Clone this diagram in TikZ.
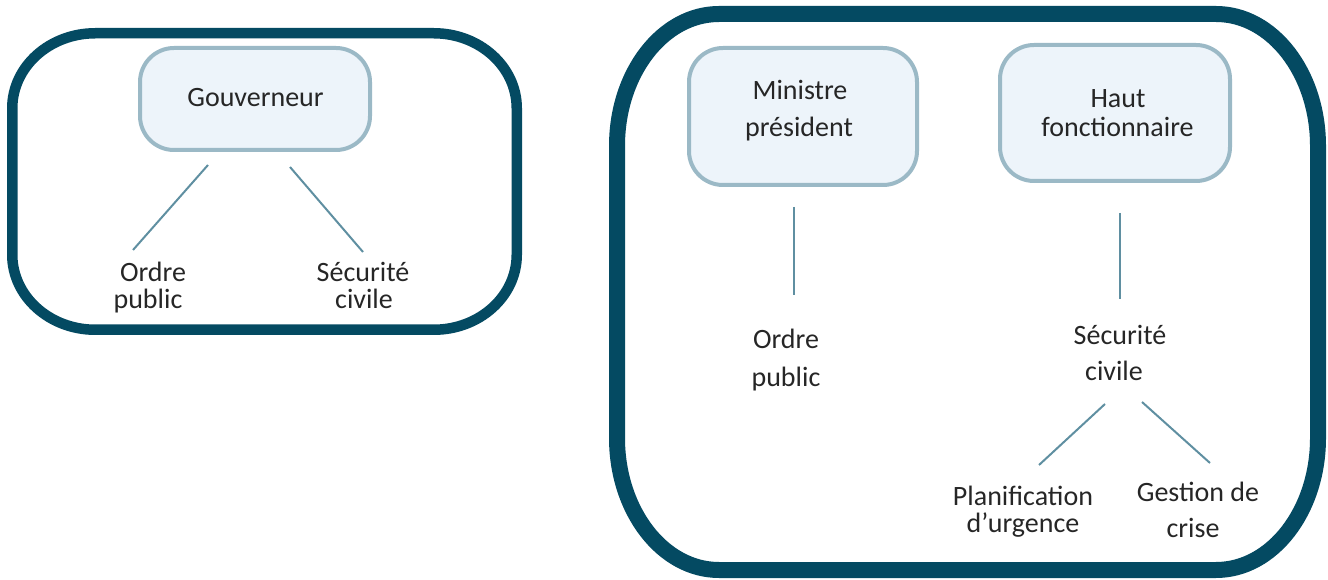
\documentclass[tikz,border=0pt]{standalone}
\usepackage{fontspec}
\setmainfont{Carlito}
\begin{document}
\begin{tikzpicture}[x=1pt,y=1pt,
  frame/.style={draw=frameblue, line join=round},
  rolebox/.style={draw=boxedge, fill=boxfill, line width=4pt, rounded corners=34pt,
                  minimum width=230pt, inner sep=0pt},
  txt/.style={anchor=base, inner sep=0pt, text=inkgray,
              font=\fontsize{28pt}{34pt}\selectfont},
  link/.style={draw=linkblue, line width=2pt}]
\definecolor{frameblue}{HTML}{044A62}
\definecolor{boxedge}{HTML}{9BB9C6}
\definecolor{boxfill}{HTML}{EDF4FA}
\definecolor{linkblue}{HTML}{5F8FA1}
\definecolor{inkgray}{HTML}{262626}
\useasboundingbox (0,0) rectangle (1328,579);

% ---- left panel: governor ----
\draw[frame, line width=10.5pt]
  (95.25,545.75) -- (433.75,545.75)
  arc[start angle=90, end angle=0, x radius=83pt, y radius=75pt] -- (516.75,324.25)
  arc[start angle=0, end angle=-90, x radius=83pt, y radius=75pt] -- (95.25,249.25)
  arc[start angle=270, end angle=180, x radius=83pt, y radius=75pt] -- (12.25,470.75)
  arc[start angle=180, end angle=90, x radius=83pt, y radius=75pt] -- cycle;

\node[rolebox, minimum height=102pt] (gouv) at (255,480) {};
\node[txt] (gouvT) at (255.5,472.3) {Gouverneur};

\node[txt] (opL1) at (153,297) {Ordre};
\node[txt] (opL2) at (148,270) {public};
\node[txt] (scL1) at (363,297) {Sécurité};
\node[txt] (scL2) at (364,270) {civile};

\coordinate (g1a) at (208,414); \coordinate (g1b) at (133,329);
\coordinate (g2a) at (290,412); \coordinate (g2b) at (363,327);
\draw[link] (g1a) -- (g1b);
\draw[link] (g2a) -- (g2b);

% ---- right panel: minister-president and senior official ----
\draw[frame, line width=16pt]
  (719,565) -- (1216,565)
  arc[start angle=90, end angle=0, x radius=102pt, y radius=132pt] -- (1318,141)
  arc[start angle=0, end angle=-90, x radius=102pt, y radius=132pt] -- (719,9)
  arc[start angle=270, end angle=180, x radius=102pt, y radius=132pt] -- (617,433)
  arc[start angle=180, end angle=90, x radius=102pt, y radius=132pt] -- cycle;

\node[rolebox, minimum width=228pt, minimum height=137pt] (mp) at (803,462.5) {};
\node[txt] (mpT1) at (800,479) {Ministre};
\node[txt] (mpT2) at (799,442) {président};

\node[rolebox, minimum height=136pt] (hf) at (1115,466) {};
\node[txt] (hfT1) at (1118,471) {Haut};
\node[txt] (hfT2) at (1117.5,442) {fonctionnaire};

\node[txt] (op2L1) at (786,230) {Ordre};
\node[txt] (op2L2) at (786,193) {public};
\node[txt] (sc2L1) at (1120,234) {Sécurité};
\node[txt] (sc2L2) at (1114,199) {civile};

\node[txt] (puL1) at (1023,74) {Planification};
\node[txt] (puL2) at (1023,47) {d’urgence};
\node[txt] (gcL1) at (1198,78) {Gestion de};
\node[txt] (gcL2) at (1193,42) {crise};

\coordinate (m1a) at (794,372); \coordinate (m1b) at (794,284);
\coordinate (h1a) at (1120,366); \coordinate (h1b) at (1120,280);
\coordinate (s1a) at (1105,175); \coordinate (s1b) at (1039,114);
\coordinate (s2a) at (1142,177); \coordinate (s2b) at (1210,116);
\draw[link] (m1a) -- (m1b);
\draw[link] (h1a) -- (h1b);
\draw[link] (s1a) -- (s1b);
\draw[link] (s2a) -- (s2b);
\end{tikzpicture}
\end{document}
